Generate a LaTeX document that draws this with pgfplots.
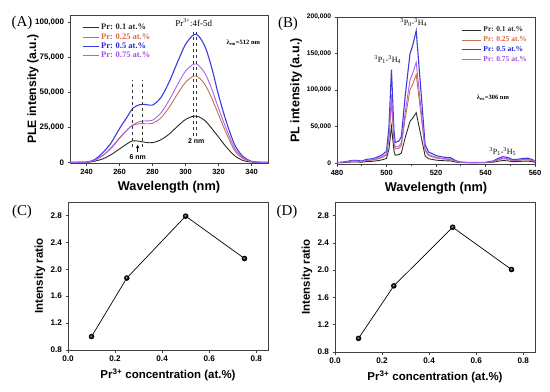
\documentclass[border=0pt]{standalone}
\usepackage{fontspec}
\setmainfont{Liberation Serif}
\setsansfont{Liberation Sans}
\usepackage{pgfplots}
\pgfplotsset{compat=1.18}
\definecolor{cblack}{HTML}{2A2A2A}
\definecolor{corange}{HTML}{C0714F}
\definecolor{corangetxt}{HTML}{D9674A}
\definecolor{cblue}{HTML}{3A3AE0}
\definecolor{cbluetxt}{HTML}{2222D0}
\definecolor{cpurple}{HTML}{B060F0}
\definecolor{cpurpletxt}{HTML}{A050E0}
\pgfplotsset{
  panel/.style={
    scale only axis,
    axis line style={line width=0.6pt, black!75},
    tick align=outside,
    xtick pos=bottom, ytick pos=left,
    tick style={black!75, line width=0.6pt},
    major tick length=2.5bp, minor tick length=1.5bp,
    ticklabel style={font=\sffamily\bfseries\fontsize{7.5}{8}\selectfont},
    label style={font=\sffamily\bfseries\fontsize{12.8}{14}\selectfont},
    scaled ticks=false,
    clip=false,
  },
  spec legend/.style={
    legend cell align=left,
    legend style={draw=none, fill=none, inner sep=1pt},
  },
}
\begin{document}
\begin{tikzpicture}[x=1bp,y=1bp]
\useasboundingbox (0,0) rectangle (550,391);
% ---------------- (A)
\node[font=\fontsize{15}{16}\selectfont] at (22,368) {(A)};
\begin{axis}[panel, at={(70bp,228bp)}, anchor=south west, width=198bp, height=148bp,
  xmin=230, xmax=350, ymin=-500, ymax=105000,
  xtick={240,260,280,300,320,340}, xticklabels={240,260,280,300,320,340},
  ytick={0,25000,50000,75000,100000}, yticklabels={0,{25,000},{50,000},{75,000},{100,000}},
  yticklabel style={font=\sffamily\bfseries\fontsize{8}{9}\selectfont},
  xlabel={Wavelength (nm)}, ylabel={PLE intensity (a.u.)},
  ylabel style={at={(axis description cs:-0.187,0.5)}, anchor=center, font=\sffamily\bfseries\fontsize{12.2}{13}\selectfont},
  spec legend,
  legend style={at={(0.055,0.96)}, anchor=north west, font=\bfseries\fontsize{8.5}{9}\selectfont, row sep=-1.8bp},
  legend image code/.code={\draw[#1] (0bp,0bp) -- (16bp,0bp);},
]
\addplot[cblack, line width=0.9pt, smooth] coordinates {
(230,0)(240,0)(245,800)(250,2500)(255,5500)(260,9500)(265,13500)(268,15300)(272,15000)(276,14200)(280,14000)(285,16000)(290,20000)(295,25500)(300,30500)(305,33000)(308,32500)(312,29500)(316,24000)(320,18000)(325,10500)(330,4500)(335,1200)(340,200)(345,0)(350,0)};
\addlegendentry{\textcolor{cblack}{Pr: 0.1 at.\%}}
\addplot[corange, line width=0.9pt, smooth] coordinates {
(230,0)(240,0)(245,1500)(250,5000)(255,10500)(260,17500)(265,23500)(268,26500)(272,27500)(276,27500)(280,27800)(285,31500)(290,39000)(295,48500)(300,57000)(305,61500)(308,60500)(312,55000)(316,45500)(320,34000)(325,20000)(330,8000)(335,2500)(340,500)(345,0)(350,0)};
\addlegendentry{\textcolor{corangetxt}{Pr: 0.25 at.\%}}
\addplot[cblue, line width=1.1pt, smooth] coordinates {
(230,0)(240,200)(245,2000)(250,7000)(255,14000)(260,24000)(265,33000)(268,38500)(272,41000)(276,41200)(280,40800)(285,46000)(290,57000)(295,71000)(300,84000)(305,91000)(308,90000)(312,82000)(316,67000)(320,48000)(325,28000)(330,12000)(335,4000)(340,700)(345,0)(350,0)};
\addlegendentry{\textcolor{cbluetxt}{Pr: 0.5 at.\%}}
\addplot[cpurple, line width=0.9pt, smooth] coordinates {
(230,0)(240,0)(245,1500)(250,5000)(255,10000)(260,17000)(265,23500)(268,26500)(272,29000)(276,29500)(280,30000)(285,35000)(290,44000)(295,55000)(300,65000)(305,70000)(308,69000)(312,63000)(316,52000)(320,38500)(325,23000)(330,9500)(335,3000)(340,600)(345,0)(350,0)};
\addlegendentry{\textcolor{cpurpletxt}{Pr: 0.75 at.\%}}
\draw[black!80, dashed, line width=0.8pt] (axis cs:268,11000) -- (axis cs:268,59000);
\draw[black!80, dashed, line width=0.8pt] (axis cs:274,11000) -- (axis cs:274,59000);
\draw[black!80, dashed, line width=0.8pt] (axis cs:304.5,19000) -- (axis cs:304.5,93000);
\draw[black!80, dashed, line width=0.8pt] (axis cs:306.5,19000) -- (axis cs:306.5,93000);
\draw[-stealth, black, line width=0.6pt] (axis cs:271,7500) -- (axis cs:271,12500);
\node[font=\sffamily\bfseries\fontsize{7}{8}\selectfont] at (axis cs:271,3500) {6 nm};
\node[font=\sffamily\bfseries\fontsize{7}{8}\selectfont] at (axis cs:306.5,15000) {2 nm};
\node[font=\fontsize{9}{10}\selectfont] at (axis cs:305,99500) {Pr\textsuperscript{3+}:4f-5d};
\node[font=\bfseries\fontsize{6.5}{7}\selectfont] at (axis cs:335,85000) {λ\textsubscript{em}=512 nm};
\end{axis}
% ---------------- (B)
\node[font=\fontsize{15}{16}\selectfont] at (288,367) {(B)};
\begin{axis}[panel, at={(337bp,227bp)}, anchor=south west, width=198bp, height=147bp,
  xmin=480, xmax=560, ymin=-1500, ymax=200000,
  xtick={480,500,520,540,560}, xticklabels={480,500,520,540,560}, minor xtick={490,510,530,550},
  ytick={0,50000,100000,150000,200000}, yticklabels={0,{50,000},{100,000},{150,000},{200,000}},
  yticklabel style={font=\sffamily\bfseries\fontsize{6.7}{8}\selectfont},
  xlabel={Wavelength (nm)}, ylabel={PL intensity (a.u.)},
  ylabel style={at={(axis description cs:-0.207,0.5)}, anchor=center, font=\sffamily\bfseries\fontsize{12.6}{14}\selectfont},
  spec legend,
  legend style={at={(0.975,0.955)}, anchor=north east, font=\bfseries\fontsize{7.5}{8}\selectfont, row sep=-0.5bp},
  legend image code/.code={\draw[#1] (0bp,0bp) -- (19bp,0bp);},
]
\addplot[cblack, line width=0.9pt] coordinates {
(480,200)(482,400)(484,800)(486,1300)(488,1300)(490,1000)(492,1900)(494,2100)(496,2900)(498,4000)(500,6100)(501,19000)(502,50000)(503,17000)(503.5,10500)(505,11400)(506,13700)(507.5,34000)(509.5,57000)(510.5,61000)(512,68800)(514,36000)(515.6,9500)(517,5700)(520,3800)(522,3200)(524,2900)(526,2700)(528,1100)(530,400)(535,200)(540,300)(543,1000)(545,2300)(547,3200)(549,2900)(551,1700)(553,1900)(555,2300)(557,2500)(559,1700)(560,800)};
\addlegendentry{\textcolor{cblack}{Pr: 0.1 at.\%}}
\addplot[corange, line width=0.9pt] coordinates {
(480,300)(482,700)(484,1300)(486,2300)(488,2300)(490,1700)(492,3300)(494,3700)(496,5000)(498,7000)(500,10700)(501,33000)(502,85000)(503,30000)(503.5,19000)(505,20000)(506,24000)(507.5,60000)(509.5,100000)(510.5,107000)(512,121000)(514,64000)(515.6,17000)(517,10000)(520,6700)(522,5700)(524,5000)(526,4700)(528,2000)(530,700)(535,300)(540,500)(543,1700)(545,4000)(547,5700)(549,5000)(551,3000)(553,3400)(555,4000)(557,4400)(559,3000)(560,1300)};
\addlegendentry{\textcolor{corangetxt}{Pr: 0.25 at.\%}}
\addplot[cblue, line width=1.1pt] coordinates {
(480,500)(482,1000)(484,2000)(486,3500)(488,3500)(490,2500)(492,5000)(494,5500)(496,7500)(498,10500)(500,16000)(501,50000)(502,128000)(503,45000)(503.5,28000)(505,30000)(506,36000)(507.5,90000)(509.5,150000)(510.5,160000)(512,181000)(514,95000)(515.6,25000)(517,15000)(520,10000)(522,8500)(524,7500)(526,7000)(528,3000)(530,1000)(535,500)(540,800)(543,2500)(545,6000)(547,8500)(549,7500)(551,4500)(553,5000)(555,6000)(557,6500)(559,4500)(560,2000)};
\addlegendentry{\textcolor{cbluetxt}{Pr: 0.5 at.\%}}
\addplot[cpurple, line width=0.9pt] coordinates {
(480,400)(482,800)(484,1500)(486,2700)(488,2700)(490,1900)(492,3800)(494,4200)(496,5700)(498,8000)(500,12200)(501,37000)(502,94000)(503,34000)(503.5,21500)(505,23000)(506,27500)(507.5,68000)(509.5,114000)(510.5,122000)(512,138000)(514,72000)(515.6,19000)(517,11500)(520,7600)(522,6500)(524,5700)(526,5300)(528,2300)(530,800)(535,400)(540,600)(543,1900)(545,4600)(547,6500)(549,5700)(551,3400)(553,3800)(555,4600)(557,4900)(559,3400)(560,1500)};
\addlegendentry{\textcolor{cpurpletxt}{Pr: 0.75 at.\%}}
\node[font=\fontsize{8}{9}\selectfont] at (axis cs:500.5,142000) {\textsuperscript{3}P\textsubscript{1}-\textsuperscript{3}H\textsubscript{4}};
\node[font=\fontsize{8}{9}\selectfont] at (axis cs:511,192000) {\textsuperscript{3}P\textsubscript{0}-\textsuperscript{3}H\textsubscript{4}};
\node[font=\fontsize{8}{9}\selectfont] at (axis cs:547,16000) {\textsuperscript{3}P\textsubscript{1}-\textsuperscript{3}H\textsubscript{5}};
\node[font=\bfseries\fontsize{6.5}{7}\selectfont] at (axis cs:543,89000) {λ\textsubscript{ex}=306 nm};
\end{axis}
% ---------------- (C)
\node[font=\fontsize{15}{16}\selectfont] at (22,179) {(C)};
\begin{axis}[panel, at={(68bp,41bp)}, anchor=south west, width=200bp, height=148bp,
  xmin=0, xmax=0.85, ymin=0.8, ymax=3.0,
  xtick={0,0.2,0.4,0.6,0.8}, xticklabels={0.0,0.2,0.4,0.6,0.8},
  ytick={0.8,1.2,1.6,2.0,2.4,2.8}, yticklabels={0.8,1.2,1.6,2.0,2.4,2.8},
  ticklabel style={font=\sffamily\bfseries\fontsize{8.2}{9}\selectfont},
  label style={font=\sffamily\bfseries\fontsize{11.5}{13}\selectfont},
  xlabel={Pr\textsuperscript{3+} concentration (at.\%)}, ylabel={Intensity ratio},
  ylabel style={at={(axis description cs:-0.14,0.5)}, anchor=center},
]
\addplot[black, line width=0.7pt, mark=ball, mark options={ball color=black}, mark size=2.4pt] coordinates {
(0.1,1.0)(0.25,1.87)(0.5,2.79)(0.75,2.16)};
\end{axis}
% ---------------- (D)
\node[font=\fontsize{15}{16}\selectfont] at (287,179) {(D)};
\begin{axis}[panel, at={(335bp,39bp)}, anchor=south west, width=200bp, height=150bp,
  xmin=0, xmax=0.85, ymin=0.8, ymax=3.0,
  xtick={0,0.2,0.4,0.6,0.8}, xticklabels={0.0,0.2,0.4,0.6,0.8},
  ytick={0.8,1.2,1.6,2.0,2.4,2.8}, yticklabels={0.8,1.2,1.6,2.0,2.4,2.8},
  ticklabel style={font=\sffamily\bfseries\fontsize{8.2}{9}\selectfont},
  label style={font=\sffamily\bfseries\fontsize{11.5}{13}\selectfont},
  xlabel={Pr\textsuperscript{3+} concentration (at.\%)}, ylabel={Intensity ratio},
  ylabel style={at={(axis description cs:-0.14,0.5)}, anchor=center},
]
\addplot[black, line width=0.7pt, mark=ball, mark options={ball color=black}, mark size=2.4pt] coordinates {
(0.1,1.0)(0.25,1.77)(0.5,2.63)(0.75,2.01)};
\end{axis}
\end{tikzpicture}
\end{document}
